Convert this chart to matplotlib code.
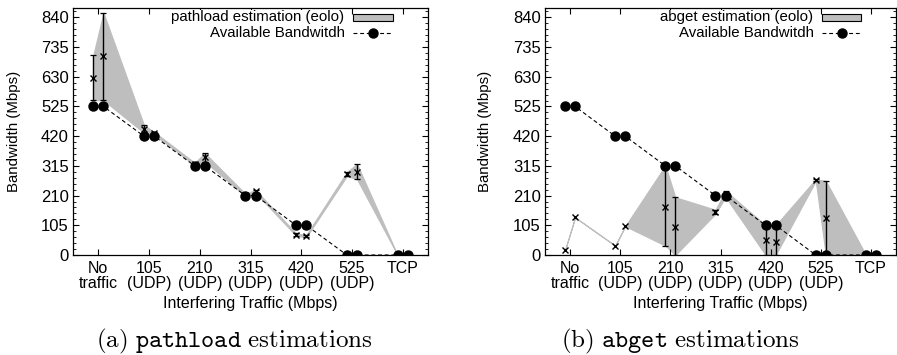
import numpy as np
import matplotlib
matplotlib.use("Agg")
import matplotlib.pyplot as plt
from matplotlib.ticker import AutoMinorLocator
from matplotlib.patches import Rectangle
from matplotlib.lines import Line2D

plt.rcParams['font.family'] = ['Liberation Sans', 'DejaVu Sans']
plt.rcParams['mathtext.fontset'] = 'cm'

# ---------------- data ----------------
categories = ["No\ntraffic", "105\n(UDP)", "210\n(UDP)", "315\n(UDP)",
              "420\n(UDP)", "525\n(UDP)", "TCP"]
yticks = [0, 105, 210, 315, 420, 525, 630, 735, 840]

available = [525, 525, 420, 420, 315, 315, 210, 210, 105, 105, 0, 0, 0, 0]

pathload_est = [627, 702, 445, 430, 322, 345, 212, 225, 72, 67, 285, 295, 0, 0]
pathload_low = [547, 547, 432, 425, 318, 330, 208, 220, 68, 63, 279, 268, 0, 0]
pathload_high = [706, 856, 459, 435, 326, 360, 216, 230, 76, 71, 293, 322, 0, 0]

abget_est = [18, 133, 33, 102, 171, 100, 153, 212, 53, 47, 265, 132, 0, 0]
abget_low = [18, 133, 33, 102, 33, 0, 146, 205, 0, 0, 262, 0, 0, 0]
abget_high = [18, 133, 33, 102, 316, 204, 160, 227, 105, 105, 268, 262, 0, 0]

# two runs per category, slightly offset around the category position
offsets = [-0.1, 0.1]
xpos = np.array([i + o for i in range(len(categories)) for o in offsets])

FILL = '#bebebe'

fig = plt.figure(figsize=(8.97, 3.55), dpi=100)
ax1 = fig.add_axes([73 / 897, 100 / 355, 355 / 897, 247 / 355])
ax2 = fig.add_axes([545 / 897, 100 / 355, 351 / 897, 247 / 355])


def draw(ax, est, low, high, legend_label, ylab_x):
    est = np.array(est, float)
    low = np.array(low, float)
    high = np.array(high, float)
    ax.fill_between(xpos, low, high, facecolor=FILL, edgecolor=FILL,
                    linewidth=0.8, zorder=1)
    ax.plot(xpos, available, color='black', linestyle=(0, (3.5, 2.5)),
            linewidth=0.8, marker='o', markersize=6.5, zorder=3)
    m = (high - low) > 0.5
    ax.errorbar(xpos[m], est[m], yerr=[est[m] - low[m], high[m] - est[m]],
                fmt='none', ecolor='black', elinewidth=1.0, capsize=2.5,
                capthick=0.9, zorder=4)
    ax.plot(xpos, est, linestyle='none', marker='x', color='black',
            markersize=4.5, markeredgewidth=1.0, zorder=5)

    ax.set_xlim(-0.5, 6.5)
    ax.set_ylim(0, 873)
    ax.set_xticks(range(len(categories)))
    ax.set_xticklabels(categories, linespacing=1.0)
    ax.set_yticks(yticks)
    ax.yaxis.set_minor_locator(AutoMinorLocator(5))
    ax.tick_params(axis='both', which='major', direction='in', length=4,
                   width=0.8, top=True, right=True)
    ax.tick_params(axis='y', which='minor', direction='in', length=2,
                   width=0.6, right=True)
    ax.tick_params(axis='x', which='major', pad=4, labelsize=11.5)
    ax.tick_params(axis='y', which='major', pad=3, labelsize=12)
    for s in ax.spines.values():
        s.set_linewidth(0.9)
    ax.set_ylabel("Bandwidth (Mbps)", fontsize=10.8)
    ax.set_xlabel("Interfering Traffic (Mbps)", fontsize=11.5)
    ax.yaxis.set_label_coords(ylab_x, 0.5)
    ax.xaxis.set_label_coords(0.5, -0.165)

    # gnuplot-style legend (text right aligned, sample on the right)
    tx = 0.765
    sx0, sx1 = 0.79, 0.90
    y1, y2 = 0.962, 0.897
    bb = dict(facecolor='white', edgecolor='none', pad=0.5)
    ax.text(tx, y1, legend_label, transform=ax.transAxes, ha='right',
            va='center', fontsize=10.8, bbox=bb, zorder=6)
    ax.text(tx, y2, "Available Bandwitdh", transform=ax.transAxes, ha='right',
            va='center', fontsize=10.8, bbox=bb, zorder=6)
    ax.add_patch(Rectangle((sx0, y1 - 0.013), sx1 - sx0, 0.026,
                           transform=ax.transAxes, facecolor=FILL,
                           edgecolor='black', linewidth=0.8, clip_on=False,
                           zorder=6))
    ax.add_line(Line2D([sx0, sx1], [y2, y2], transform=ax.transAxes,
                       color='black', linestyle=(0, (3.5, 2.5)), linewidth=0.8,
                       zorder=6))
    ax.add_line(Line2D([(sx0 + sx1) / 2], [y2], transform=ax.transAxes,
                       color='black', marker='o', markersize=6.5, zorder=6))


draw(ax1, pathload_est, pathload_low, pathload_high,
     "pathload estimation (eolo)", -0.146)
draw(ax2, abget_est, abget_low, abget_high,
     "abget estimation (eolo)", -0.151)

fig.text(234 / 897, 1 - 341 / 355,
         r'$\mathrm{(a)\ }\mathtt{pathload}\mathrm{\ estimations}$',
         ha='center', va='center', fontsize=18)
fig.text(680 / 897, 1 - 341 / 355,
         r'$\mathrm{(b)\ }\mathtt{abget}\mathrm{\ estimations}$',
         ha='center', va='center', fontsize=18)

fig.savefig("out.png", dpi=100)
